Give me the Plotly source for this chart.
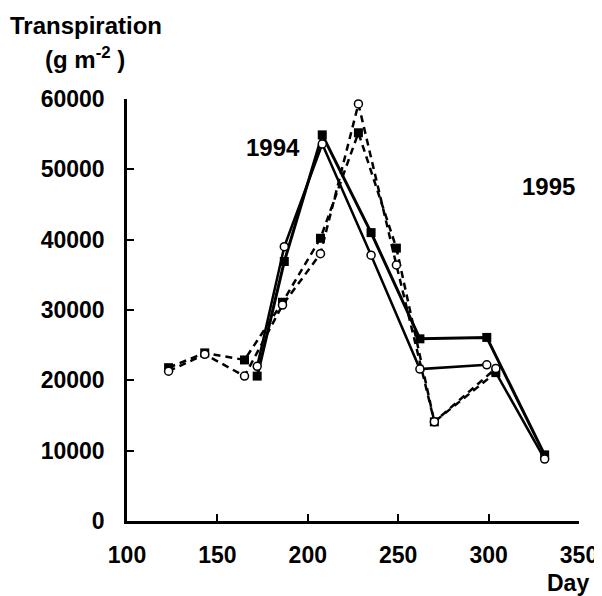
import plotly.graph_objects as go

# 1994 (solid lines)
day_94_sq = [172, 187, 208, 235, 262, 299, 331]
val_94_sq = [20600, 36900, 54900, 41000, 25900, 26100, 9400]
day_94_ci = [172, 187, 208, 235, 262, 299]
val_94_ci = [22000, 39000, 53600, 37800, 21600, 22200]

# 1995 (dashed lines)
day_95_sq = [123, 143, 165, 186, 207, 228, 249, 270, 304]
val_95_sq = [21800, 23900, 22900, 31100, 40200, 55200, 38800, 14100, 21100]
day_95_ci = [123, 143, 165, 186, 207, 228, 249, 270, 304]
val_95_ci = [21300, 23700, 20600, 30700, 38000, 59300, 36400, 14100, 21700]
# last 1995 segment drawn solid
day_95_end = [304, 331]
val_95_end = [21100, 8800]

x_ticks = [100, 150, 200, 250, 300, 350]
y_ticks = [0, 10000, 20000, 30000, 40000, 50000, 60000]
y_tick_text = ["0", "10000", "20000", "30000", "40000", "50000", "60000"]

FONT = "Liberation Sans, Arial, sans-serif"
fig = go.Figure()

sq_marker = dict(symbol="square", size=9, color="black", line=dict(width=0))
ci_marker = dict(symbol="circle", size=8, color="white", line=dict(width=1.5, color="black"))

fig.add_trace(go.Scatter(x=day_95_end, y=val_95_end, mode="lines",
                         line=dict(color="black", width=2.5)))
fig.add_trace(go.Scatter(x=day_95_sq, y=val_95_sq, mode="lines+markers",
                         line=dict(color="black", width=2.5, dash="7px,5px"), marker=sq_marker))
fig.add_trace(go.Scatter(x=day_95_ci, y=val_95_ci, mode="lines+markers",
                         line=dict(color="black", width=2.5, dash="7px,5px"), marker=ci_marker))
fig.add_trace(go.Scatter(x=day_94_sq, y=val_94_sq, mode="lines+markers",
                         line=dict(color="black", width=3), marker=sq_marker))
fig.add_trace(go.Scatter(x=day_94_ci, y=val_94_ci, mode="lines+markers",
                         line=dict(color="black", width=2.5), marker=ci_marker))
fig.add_trace(go.Scatter(x=[331], y=[8800], mode="markers", marker=ci_marker))

# page offset of 8px (body margin) -> plot area at page x 127..579, y 99..521
L, R, T, B = 119, 31, 91, 83
PX0, PX1, PY0, PY1 = 127, 579, 99, 521


def px(x):
    return (x - PX0) / (PX1 - PX0)


def py(y):
    return (PY1 - y) / (PY1 - PY0)


tickfont = dict(family=FONT, size=23, color="black", weight="bold")
bold = dict(family=FONT, size=24, color="black", weight="bold")
fig.update_layout(
    width=602, height=596,
    margin=dict(l=L, r=R, t=T, b=B),
    paper_bgcolor="white", plot_bgcolor="white",
    showlegend=False,
    xaxis=dict(range=[100, 350], tickvals=x_ticks, ticks="inside", ticklen=7, tickwidth=2,
               tickcolor="black", showline=True, linecolor="black", linewidth=2.5,
               showgrid=False, zeroline=False, tickfont=tickfont, ticklabelstandoff=12),
    yaxis=dict(range=[0, 60000], tickvals=y_ticks, ticktext=y_tick_text, ticks="inside",
               ticklen=7, tickwidth=2,
               tickcolor="black", showline=True, linecolor="black", linewidth=2.5,
               showgrid=False, zeroline=False, tickfont=tickfont, ticklabelstandoff=15),
    annotations=[
        dict(text="Transpiration", xref="paper", yref="paper", x=px(85.5), y=py(26),
             xanchor="center", yanchor="middle", showarrow=False, font=bold),
        dict(text="(g m<sup>-2</sup> )", xref="paper", yref="paper", x=px(85), y=py(58),
             xanchor="center", yanchor="middle", showarrow=False, font=bold),
        dict(text="1994", x=180.8, y=53100, xanchor="center", yanchor="middle", showarrow=False,
             font=bold),
        dict(text="1995", x=332.9, y=47630, xanchor="center", yanchor="middle", showarrow=False,
             font=bold),
        dict(text="Day", xref="paper", yref="paper", x=px(568), y=py(583),
             xanchor="center", yanchor="middle", showarrow=False,
             font=dict(family=FONT, size=23, color="black", weight="bold")),
    ],
)

fig.write_html("out.html")
